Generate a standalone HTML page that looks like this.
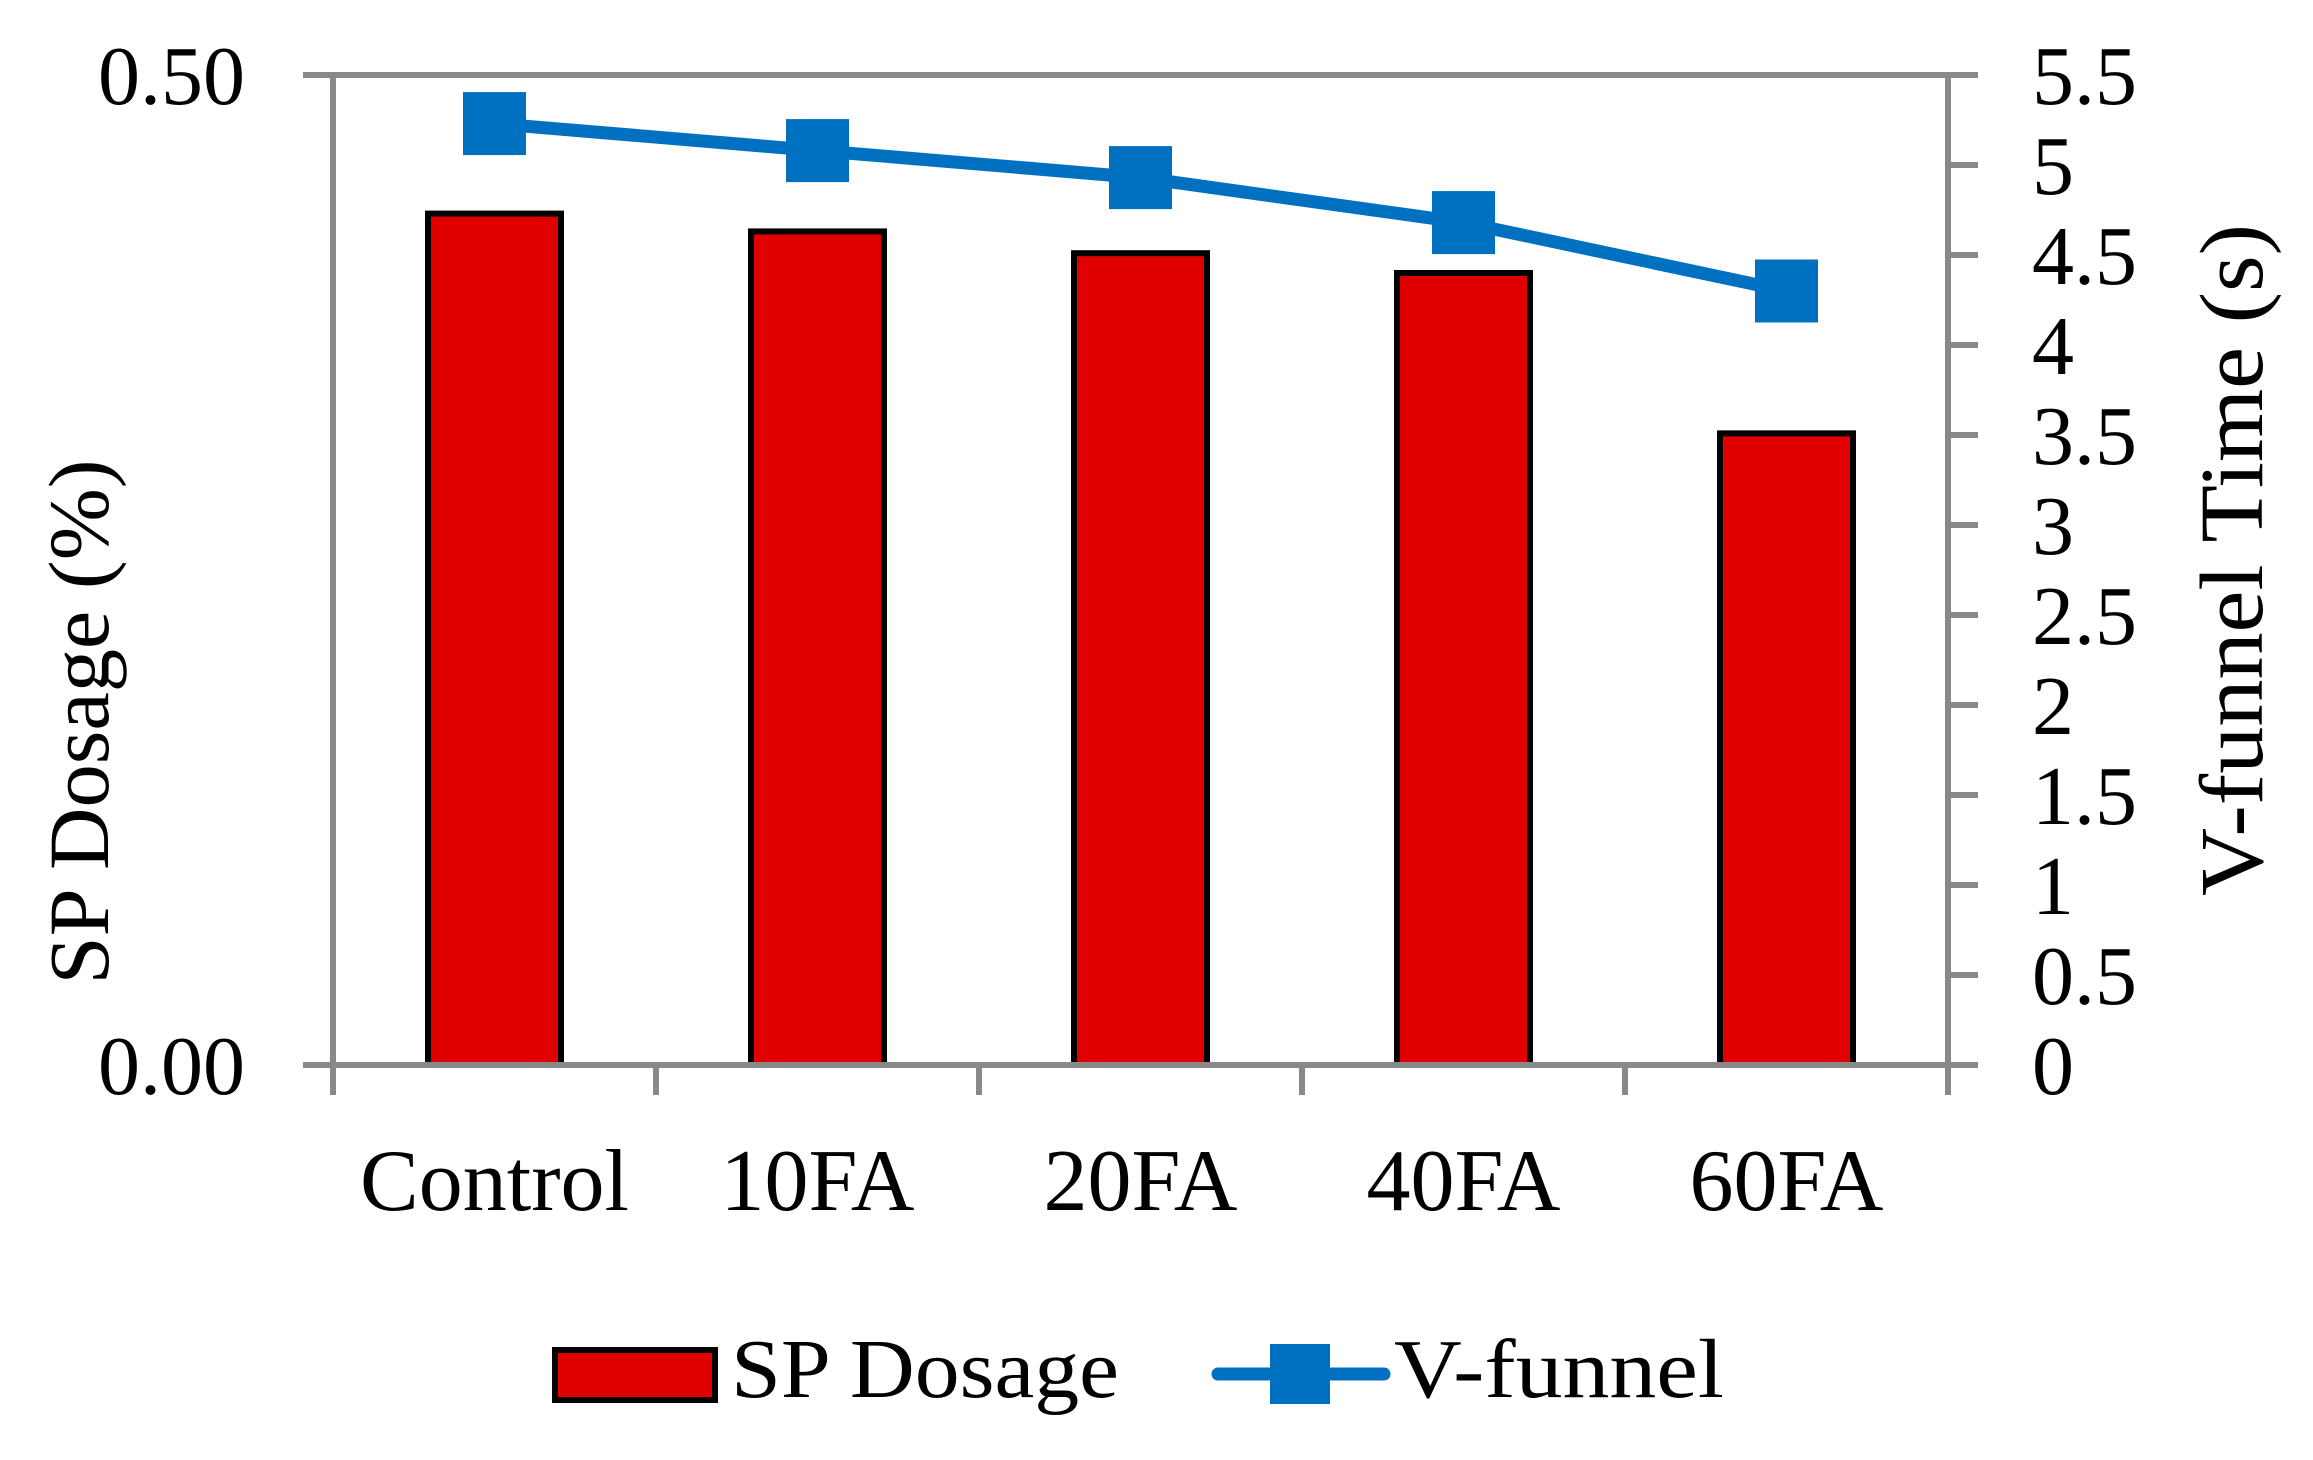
<!DOCTYPE html>
<html><head><meta charset="utf-8"><style>
html,body{margin:0;padding:0;background:#fff;}
svg{display:block;font-family:"Liberation Serif",serif;}
</style></head><body>
<svg id="chart" width="2313" height="1460" viewBox="0 0 2313 1460" xmlns="http://www.w3.org/2000/svg">
<g id="plot"></g>
<text x="0" y="0" transform="translate(108,722) rotate(-90)" text-anchor="middle" font-size="86" textLength="525" lengthAdjust="spacingAndGlyphs">SP Dosage (%)</text>
<text x="0" y="0" transform="translate(2262,560) rotate(-90)" text-anchor="middle" font-size="90" textLength="672" lengthAdjust="spacingAndGlyphs">V-funnel Time (s)</text>
<g>
<rect x="555" y="1350" width="160" height="50" fill="#E00000" stroke="#000" stroke-width="6"/>
<text x="731" y="1397" font-size="84" textLength="388" lengthAdjust="spacingAndGlyphs">SP Dosage</text>
<line x1="1218" y1="1374" x2="1384" y2="1374" stroke="#0070C0" stroke-width="13" stroke-linecap="round"/>
<rect x="1270" y="1344" width="60" height="60" fill="#0070C0"/>
<text x="1394" y="1397" font-size="84" textLength="330" lengthAdjust="spacingAndGlyphs">V-funnel</text>
</g>
</svg>
<script>
const categories = ["Control","10FA","20FA","40FA","60FA"];
const spDosage = [0.430, 0.421, 0.410, 0.400, 0.319];
const vFunnel = [5.23, 5.08, 4.93, 4.68, 4.30];
const leftTicks = ["0.00","0.50"];
const leftTickValues = [0, 0.5];
const rightTickValues = [0,0.5,1,1.5,2,2.5,3,3.5,4,4.5,5,5.5];
const rightTickLabels = ["0","0.5","1","1.5","2","2.5","3","3.5","4","4.5","5","5.5"];

const NS = "http://www.w3.org/2000/svg";
const g = document.getElementById('plot');
const L = 333, R = 1948, T = 75, B = 1065;
const yL = v => B - (v / 0.5) * (B - T);
const yR = v => B - (v / 5.5) * (B - T);
const bw = (R - L) / categories.length;
const xC = i => L + bw * (i + 0.5);
function mk(tag, attrs) { const e = document.createElementNS(NS, tag); for (const k in attrs) e.setAttribute(k, attrs[k]); g.appendChild(e); return e; }
const gray = "#898989";

spDosage.forEach((v, i) => {
  const w = 133, x = xC(i) - w / 2, y = yL(v);
  const r = mk('rect', {x: x, y: y, width: w, height: B - y, fill: "#E00000", stroke: "#000", "stroke-width": 6});
  
  
});

let a = mk('line', {x1: L, y1: T, x2: R, y2: T, stroke: gray, "stroke-width": 6});


a = mk('line', {x1: L, y1: T - 3, x2: L, y2: B, stroke: gray, "stroke-width": 6});


a = mk('line', {x1: R, y1: T - 3, x2: R, y2: B + 30, stroke: gray, "stroke-width": 6});


a = mk('line', {x1: L - 30, y1: B, x2: R + 30, y2: B, stroke: gray, "stroke-width": 6});



leftTickValues.forEach((v, i) => {
  const t = mk('line', {x1: L - 30, y1: yL(v), x2: L, y2: yL(v), stroke: gray, "stroke-width": 6});
  
  
  const tx = mk('text', {x: 245, y: yL(v) + 29, "text-anchor": "end", "font-size": 84});
  tx.textContent = leftTicks[i];
  
  
});
rightTickValues.forEach((v, i) => {
  const t = mk('line', {x1: R, y1: yR(v), x2: R + 30, y2: yR(v), stroke: gray, "stroke-width": 6});
  
  
  const tx = mk('text', {x: 2032, y: yR(v) + 29, "font-size": 84});
  tx.textContent = rightTickLabels[i];
  
  
});
for (let i = 0; i <= categories.length; i++) {
  const x = L + bw * i;
  const t = mk('line', {x1: x, y1: B, x2: x, y2: B + 30, stroke: gray, "stroke-width": 6});
  
  
}
categories.forEach((c, i) => {
  const tx = mk('text', {x: xC(i), y: 1210, "text-anchor": "middle", "font-size": 88});
  tx.textContent = c;
  
  
});

const pts = vFunnel.map((v, i) => xC(i) + ',' + yR(v)).join(' ');
const pl = mk('polyline', {points: pts, fill: "none", stroke: "#0070C0", "stroke-width": 13, "stroke-linejoin": "round"});


vFunnel.forEach((v, i) => {
  const s = 63;
  const m = mk('rect', {x: xC(i) - s / 2, y: yR(v) - s / 2, width: s, height: s, fill: "#0070C0"});
  
  
});
</script>
</body></html>
